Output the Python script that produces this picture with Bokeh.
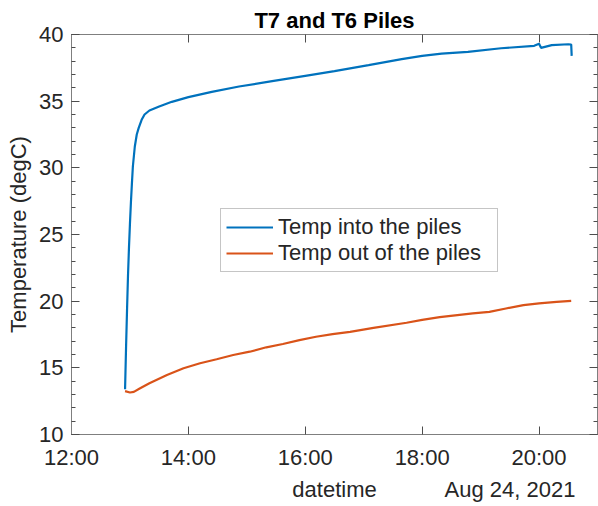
import pandas as pd
from bokeh.plotting import figure
from bokeh.layouts import column
from bokeh.models import (Range1d, LinearAxis, FixedTicker, SingleIntervalTicker,
                          DatetimeTickFormatter, Label, CustomJSTickFormatter)
from bokeh.embed import file_html
from bokeh.resources import INLINE

DATE = "2021-08-24"

# Temp into the piles
in_times = ["12:55:00", "12:56:00", "12:57:00", "12:58:00", "12:59:00", "13:00:00",
            "13:01:00", "13:02:00", "13:03:00", "13:05:00", "13:07:00", "13:09:00",
            "13:12:00", "13:15:00", "13:20:00", "13:30:00", "13:43:00", "14:00:00",
            "14:24:00", "14:52:00", "15:26:00", "16:00:00", "16:30:00", "17:05:00",
            "17:39:00", "18:00:00", "18:20:00", "18:47:00", "19:21:00", "19:55:00",
            "20:00:00", "20:02:00", "20:13:00", "20:30:00", "20:33:00", "20:33:30"]
in_temps = [13.4, 16.5, 19.3, 21.9, 24.0, 25.8,
            27.4, 28.8, 30.1, 31.6, 32.5, 33.0,
            33.6, 34.0, 34.3, 34.6, 34.95, 35.3,
            35.7, 36.1, 36.5, 36.9, 37.25, 37.7,
            38.15, 38.4, 38.57, 38.7, 38.97, 39.15,
            39.3, 39.0, 39.2, 39.27, 39.25, 38.4]

# Temp out of the piles
out_times = ["12:55:00", "13:00:00", "13:04:00", "13:10:00", "13:20:00", "13:38:00",
             "13:55:00", "14:12:00", "14:29:00", "14:46:00", "15:03:00", "15:20:00",
             "15:37:00", "15:54:00", "16:11:00", "16:28:00", "16:46:00", "17:10:00",
             "17:44:00", "18:00:00", "18:18:00", "18:52:00", "19:09:00", "19:26:00",
             "19:44:00", "20:00:00", "20:18:00", "20:33:00"]
out_temps = [13.25, 13.15, 13.2, 13.45, 13.85, 14.47,
             14.97, 15.34, 15.64, 15.96, 16.21, 16.54,
             16.79, 17.08, 17.33, 17.53, 17.7, 18.0,
             18.38, 18.6, 18.8, 19.08, 19.2, 19.45,
             19.7, 19.83, 19.95, 20.02]

x_tick_times = ["12:00:00", "14:00:00", "16:00:00", "18:00:00", "20:00:00"]
x_start, x_end = "12:00:00", "21:00:00"
y_start, y_end = 10, 40

TITLE = "T7 and T6 Piles"
Y_LABEL = "Temperature (degC)"
X_LABEL = "datetime"
DATE_LABEL = "Aug 24, 2021"

def ts(t):
    return pd.Timestamp(DATE + " " + t)

def ms(t):
    return ts(t).value / 1e6

in_x = [ts(t) for t in in_times]
out_x = [ts(t) for t in out_times]

FONT = "Liberation Sans"
TXT = "#262626"
AX = "#7f7f7f"
TK = "#4d4d4d"

p = figure(width=598, height=472, x_axis_type="datetime",
           x_range=Range1d(ms(x_start), ms(x_end)), y_range=Range1d(y_start, y_end),
           output_backend="svg", toolbar_location=None,
           min_border_left=71, min_border_right=1, min_border_top=34, min_border_bottom=37)
p.grid.visible = False
p.outline_line_color = AX
p.background_fill_color = "white"
p.border_fill_color = "white"

p.title.text = TITLE
p.title.align = "center"
p.title.text_font = FONT
p.title.text_font_size = "22px"
p.title.text_font_style = "bold"
p.title.text_color = "black"
p.title.standoff = 3

xt = FixedTicker(ticks=[ms(t) for t in x_tick_times], minor_ticks=[])
yt = SingleIntervalTicker(interval=5, num_minor_ticks=5)

def style(ax, labels=True, standoff=8):
    ax.axis_line_color = AX
    ax.major_tick_line_color = TK
    ax.minor_tick_line_color = TK
    ax.major_tick_in = 8
    ax.major_tick_out = 0
    ax.minor_tick_in = 4
    ax.minor_tick_out = 0
    ax.major_label_text_font = FONT
    ax.major_label_text_color = TXT
    if labels:
        ax.major_label_text_font_size = "22px"
        ax.major_label_standoff = standoff
    else:
        ax.formatter = CustomJSTickFormatter(code="return ''")
        ax.major_label_text_font_size = "1px"
        ax.major_label_standoff = 0

xb = p.xaxis[0]
xb.ticker = xt
xb.formatter = DatetimeTickFormatter(hours="%H:%M", hourmin="%H:%M", minutes="%H:%M")
style(xb, standoff=10)
yl = p.yaxis[0]
yl.ticker = yt
style(yl, standoff=8)
yl.axis_label = Y_LABEL
yl.axis_label_text_font = FONT
yl.axis_label_text_font_size = "22px"
yl.axis_label_text_font_style = "normal"
yl.axis_label_text_color = TXT
yl.axis_label_standoff = 5

xa = LinearAxis(ticker=xt)
style(xa, labels=False)
p.add_layout(xa, "above")
yr = LinearAxis(ticker=yt)
style(yr, labels=False)
p.add_layout(yr, "right")

p.line(in_x, in_temps, line_color="#0072BD", line_width=2.2, legend_label="Temp into the piles")
p.line(out_x, out_temps, line_color="#D95319", line_width=2.2, legend_label="Temp out of the piles")

lg = p.legend[0]
lg.location = (149, 162)
lg.margin = 0
lg.padding = 5
lg.spacing = 0
lg.label_standoff = 5
lg.glyph_width = 47
lg.glyph_height = 20
lg.label_height = 26
lg.label_width = 214
lg.label_text_font = FONT
lg.label_text_font_size = "22px"
lg.label_text_color = TXT
lg.border_line_color = "#8c8c8c"
lg.border_line_width = 1
lg.background_fill_color = "white"
lg.background_fill_alpha = 1

# strip under the chart for the x-axis caption and the date
cap = figure(width=598, height=34, title=None, x_range=Range1d(ms(x_start), ms(x_end)),
             y_range=Range1d(0, 34), output_backend="svg", toolbar_location=None,
             x_axis_location=None, y_axis_location=None,
             min_border_left=71, min_border_right=1, min_border_top=0, min_border_bottom=0)
cap.grid.visible = False
cap.outline_line_color = None
cap.background_fill_color = "white"
cap.border_fill_color = "white"
cap.add_layout(Label(x=ms("16:30:00"), y=16.9, text=X_LABEL, text_align="center",
                     text_baseline="middle", text_font=FONT, text_font_size="22px",
                     text_color=TXT))
cap.add_layout(Label(x=ms("20:37:24"), y=16.9, text=DATE_LABEL, text_align="right",
                     text_baseline="middle", text_font=FONT, text_font_size="22px",
                     text_color=TXT))

layout = column(p, cap, spacing=0)
open("out.html", "w").write(file_html(layout, INLINE))
